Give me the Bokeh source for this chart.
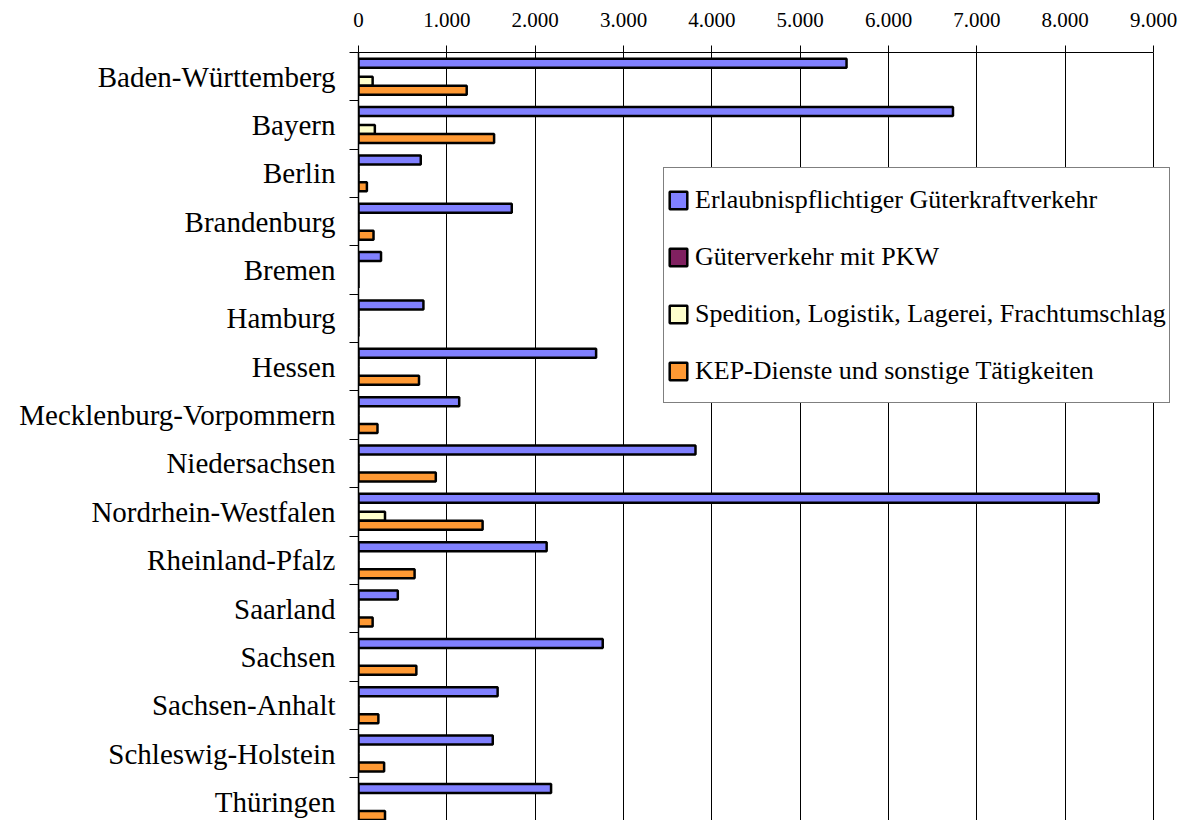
from bokeh.plotting import figure
from bokeh.models import Range1d, FixedTicker, Legend
from bokeh.embed import file_html
from bokeh.resources import INLINE

states = ["Baden-Württemberg", "Bayern", "Berlin", "Brandenburg", "Bremen", "Hamburg",
          "Hessen", "Mecklenburg-Vorpommern", "Niedersachsen", "Nordrhein-Westfalen",
          "Rheinland-Pfalz", "Saarland", "Sachsen", "Sachsen-Anhalt",
          "Schleswig-Holstein", "Thüringen"]
erlaubnis = [5525, 6730, 705, 1735, 255, 735, 2690, 1140, 3815, 8380, 2130, 445, 2765, 1575, 1520, 2180]
pkw = [0, 0, 0, 0, 0, 0, 0, 0, 0, 0, 0, 0, 0, 0, 0, 0]
spedition = [160, 185, 0, 0, 0, 0, 0, 0, 0, 300, 0, 0, 0, 0, 0, 0]
kep = [1225, 1535, 95, 170, 0, 0, 685, 215, 875, 1405, 635, 160, 655, 225, 290, 300]
series_names = ["Erlaubnispflichtiger Güterkraftverkehr", "Güterverkehr mit PKW",
                "Spedition, Logistik, Lagerei, Frachtumschlag", "KEP-Dienste und sonstige Tätigkeiten"]
tick_values = [0, 1000, 2000, 3000, 4000, 5000, 6000, 7000, 8000, 9000]
tick_labels = ["0", "1.000", "2.000", "3.000", "4.000", "5.000", "6.000", "7.000", "8.000", "9.000"]

colors = ["#8080FF", "#802060", "#FFFFCC", "#FF9933"]
FONT = "Liberation Serif"

W, H = 1187, 820
left_border = 358
top_border = 52
right_border = 8
band_px = 48.35
axis_px = 795.0          # pixel length of 0..9000
frame_w = W - left_border - right_border
frame_h = H - top_border
n = len(states)
x_max = tick_values[-1]

p = figure(width=W, height=H, output_backend="svg", toolbar_location=None,
           x_axis_location="above",
           x_range=Range1d(0, x_max * frame_w / axis_px),
           y_range=Range1d(-0.5 + frame_h / band_px, -0.5),
           min_border_left=left_border, min_border_right=right_border,
           min_border_top=top_border, min_border_bottom=0)
p.outline_line_color = None
p.background_fill_color = "white"

slot = 0.186
offsets = [-1.5 * slot, -0.5 * slot, 0.5 * slot, 1.5 * slot]
all_series = [erlaubnis, pkw, spedition, kep]
renderers = []
for vals, off, col, name in zip(all_series, offsets, colors, series_names):
    ys = [i + off for i in range(n)]
    r = p.hbar(y=ys, left=0, right=vals, height=slot, fill_color=col,
               line_color="black", line_width=2.5)
    renderers.append((name, [r]))

# x axis (top)
xa = p.xaxis[0]
xa.ticker = FixedTicker(ticks=tick_values)
xa.bounds = (0, x_max)
xa.major_label_overrides = {v: l for v, l in zip(tick_values, tick_labels)}
xa.major_label_text_font = FONT
xa.major_label_text_font_size = "21px"
xa.major_label_text_color = "black"
xa.major_tick_out = 7
xa.major_tick_in = 0
xa.minor_tick_line_color = None
xa.axis_line_color = "black"
xa.major_tick_line_color = "black"
xa.major_label_standoff = 19

# y axis (left)
ya = p.yaxis[0]
ya.ticker = FixedTicker(ticks=list(range(n)), minor_ticks=[i - 0.5 for i in range(n + 1)])
ya.major_label_overrides = {i: s for i, s in enumerate(states)}
ya.major_label_text_font = FONT
ya.major_label_text_font_size = "29px"
ya.major_label_text_color = "black"
ya.major_tick_line_color = None
ya.minor_tick_line_color = "black"
ya.minor_tick_out = 9
ya.minor_tick_in = 0
ya.axis_line_color = "black"
ya.axis_line_width = 1.5
ya.major_label_standoff = 14

p.xgrid.grid_line_color = "black"
p.xgrid.grid_line_width = 1
p.ygrid.grid_line_color = None

legend = Legend(items=renderers, location=(305, 417))
legend.label_text_font = FONT
legend.label_text_font_size = "26px"
legend.label_text_color = "black"
legend.label_height = 57
legend.glyph_width = 22
legend.glyph_height = 22
legend.label_standoff = 6
legend.spacing = 0
legend.padding = 3
legend.margin = 0
legend.border_line_color = "black"
legend.border_line_width = 1
legend.background_fill_color = "white"
legend.background_fill_alpha = 1
p.add_layout(legend, "center")

open("out.html", "w").write(file_html(p, INLINE))
